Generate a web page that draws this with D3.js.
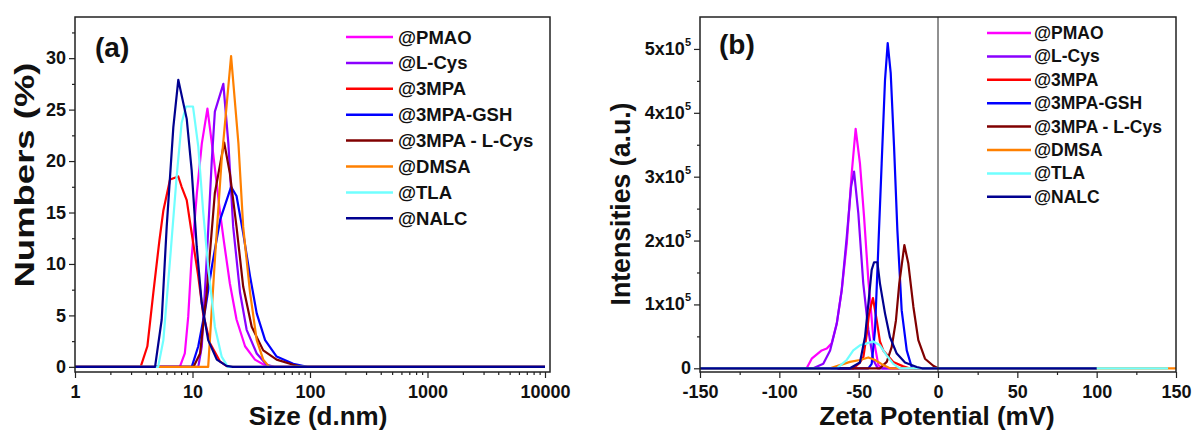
<!DOCTYPE html>
<html><head><meta charset="utf-8">
<script src="https://cdn.jsdelivr.net/npm/d3@7"></script>
<style>
html,body{margin:0;padding:0;background:#fff;}
text{font-family:"Liberation Sans",Arial,sans-serif;font-weight:bold;fill:#111;}
</style></head>
<body><svg id="c" width="1194" height="432"></svg>
<script>
// ---------- DATA ----------
const seriesNames = ["@PMAO","@L-Cys","@3MPA","@3MPA-GSH","@3MPA - L-Cys","@DMSA","@TLA","@NALC"];
const seriesColors = ["#ff00ff","#8a00ff","#ff0000","#0000ff","#800000","#ff8000","#70ffff","#000090"];

// Panel (a): size (d.nm) vs numbers (%)
const sizePMAO   = [[1,0],[7.8,0],[8.6,1.3],[9.2,4.9],[9.8,10.4],[10.9,16.9],[12,21.7],[13.4,25.1],[15,20.7],[17.2,14.9],[18.5,12.2],[20.8,8.1],[23.7,4.6],[28,2.0],[34,0.7],[42,0.1],[48,0],[10000,0]];
const sizeLCys   = [[1,0],[11.2,0],[12,2],[13.2,10.4],[14.6,20.1],[15.5,24.8],[18.3,27.5],[20.2,21.7],[22.2,13.6],[25.4,7.2],[28.9,3.6],[35.2,1.3],[42.7,0.2],[50,0],[10000,0]];
const size3MPA   = [[1,0],[3.62,0],[4.13,2],[4.64,7.2],[5.23,12.3],[5.65,15.2],[6.44,18.2],[7.57,18.5],[8.08,17.5],[8.93,16.2],[9.84,13],[11.2,8.8],[12.3,5.2],[14.1,2.3],[17.2,0.5],[20,0],[10000,0]];
const sizeGSH    = [[1,0],[9.85,0],[11.2,2],[12.8,5.5],[14.6,9.7],[17.2,14.3],[21.3,17.5],[23.7,16.6],[27,13],[30.9,8.8],[35.2,5.2],[41.5,2.6],[52,1],[72,0.3],[95,0],[10000,0]];
const size3MPALCys = [[1,0],[10.2,0],[11.6,1.3],[13.2,7.2],[15.5,16.9],[18.6,21.8],[20.8,18.8],[23.7,13.6],[27,7.8],[31.9,3.9],[40,1.6],[52,0.7],[72,0.2],[85,0],[10000,0]];
const sizeDMSA   = [[1,0],[13.6,0],[15.5,10.4],[17.7,20.1],[21.3,30.2],[24.6,21.7],[27,13.6],[30.9,7.2],[35.2,2.6],[40,0.7],[45,0],[10000,0]];
const sizeTLA    = [[1,0],[5.1,0],[5.65,2.6],[6.44,10.4],[7.33,18.5],[8.08,23.7],[8.8,25.3],[10.1,25.3],[11.2,21.4],[12.3,15.2],[13.6,9.7],[15.5,3.9],[17.7,1.0],[20,0],[10000,0]];
const sizeNALC   = [[1,0],[4.8,0],[5.47,4.6],[6.03,13.6],[6.87,23.3],[7.57,27.9],[8.93,24.1],[9.84,19.1],[10.86,11.7],[11.98,6.2],[13.6,2.6],[16.1,0.7],[19.5,0.1],[22,0],[10000,0]];

// Panel (b): zeta potential (mV) vs intensities (a.u.)
const zetaPMAO   = [[-150,0],[-82.8,0],[-79.6,0.15e5],[-73.3,0.28e5],[-70.1,0.31e5],[-67,0.39e5],[-63.8,0.7e5],[-60.7,1.22e5],[-57.5,1.95e5],[-54.4,3.05e5],[-51.9,3.75e5],[-49.2,3.21e5],[-46.6,2.37e5],[-43.9,1.38e5],[-40.8,0.49e5],[-37.6,0.05e5],[-35,0],[100,0]];
const zetaLCys   = [[-150,0],[-78.6,0],[-72.3,0.07e5],[-68,0.28e5],[-63.8,0.7e5],[-60.7,1.22e5],[-57.5,2.06e5],[-54.8,2.84e5],[-52.9,3.08e5],[-50.2,2.42e5],[-47.1,1.33e5],[-43.9,0.6e5],[-40.8,0.13e5],[-38,0],[100,0]];
const zeta3MPA   = [[-150,0],[-53.4,0],[-49.2,0.09e5],[-47,0.18e5],[-44.9,0.54e5],[-43.5,0.85e5],[-41,1.1e5],[-38.6,0.75e5],[-36.6,0.42e5],[-34.5,0.28e5],[-28.2,0.1e5],[-21.9,0.03e5],[-18,0],[100,0]];
const zetaGSH    = [[-150,0],[-43.9,0],[-41.8,0.07e5],[-39.7,0.6e5],[-37.6,1.9e5],[-35.5,3.21e5],[-33.4,4.51e5],[-31.7,5.09e5],[-29.8,4.62e5],[-27.7,3.47e5],[-25.6,2.16e5],[-22.9,0.91e5],[-19.7,0.28e5],[-16.6,0.02e5],[-15,0],[100,0]];
const zeta3MPALCys = [[-150,0],[-36.6,0],[-32.3,0.1e5],[-29.2,0.33e5],[-26.5,0.75e5],[-24.4,1.33e5],[-21.2,1.93e5],[-18.7,1.64e5],[-15.5,0.96e5],[-12.4,0.44e5],[-8.2,0.15e5],[-3,0.04e5],[0,0],[100,0]];
const zetaDMSA   = [[-150,0],[-68,0],[-61.8,0.05e5],[-55.5,0.1e5],[-49.2,0.13e5],[-43.9,0.17e5],[-39.7,0.13e5],[-34.5,0.05e5],[-30.3,0],[150,0]];
const zetaTLA    = [[-150,0],[-63.8,0],[-57.5,0.13e5],[-53.4,0.28e5],[-49.2,0.36e5],[-44.9,0.39e5],[-40.8,0.42e5],[-36.6,0.36e5],[-32.3,0.2e5],[-28.2,0.07e5],[-24,0],[145,0]];
const zetaNALC   = [[-150,0],[-55.5,0],[-49.2,0.09e5],[-46,0.49e5],[-43.9,1.01e5],[-41.8,1.54e5],[-40.3,1.66e5],[-38.2,1.66e5],[-36.6,1.33e5],[-33.4,0.86e5],[-30.3,0.49e5],[-26,0.23e5],[-20.8,0.09e5],[-13.4,0.02e5],[-10,0],[100,0]];

const sizeTicks = [1,10,100,1000,10000];
const numTicks = [0,5,10,15,20,25,30];
const zetaTicks = [-150,-100,-50,0,50,100,150];
const intTicks = [0,1e5,2e5,3e5,4e5,5e5];

const seriesA = [sizePMAO,sizeLCys,size3MPA,sizeGSH,size3MPALCys,sizeDMSA,sizeTLA,sizeNALC];
const seriesB = [zetaPMAO,zetaLCys,zeta3MPA,zetaGSH,zeta3MPALCys,zetaDMSA,zetaTLA,zetaNALC];

// ---------- DRAW ----------
const svg = d3.select("#c");
const plainFmt = d => String(d);

function frame(g, x0, x1, y0, y1){
  g.append("rect").attr("x",x0).attr("y",y0).attr("width",x1-x0).attr("height",y1-y0)
   .attr("fill","none").attr("stroke","#222").attr("stroke-width",1.5);
}

// Panel A
{
  const L=75,R=550,T=17,B=372;
  const x = d3.scaleLog().domain([1,10000]).range([75,545]);
  const y = d3.scaleLinear().domain([-0.5,34]).range([B,T]);
  const g = svg.append("g");
  const line = d3.line().x(d=>x(d[0])).y(d=>y(d[1]));
  seriesA.forEach((s,i)=>{
    g.append("path").attr("d",line(s)).attr("fill","none").attr("stroke",seriesColors[i])
     .attr("stroke-width",2.2).attr("stroke-linejoin","round");
  });
  frame(g,L,R,T,B);
  const minorX=[];
  for(let d=1; d<10000; d*=10) for(let k=2;k<=9;k++) minorX.push(d*k);
  const ax = d3.axisBottom(x).tickValues(sizeTicks).tickFormat(plainFmt).tickSize(6).tickSizeOuter(0);
  const gx = g.append("g").attr("transform",`translate(0,${B})`).call(ax);
  gx.select(".domain").remove();
  gx.selectAll("text").attr("font-size",18).attr("dy","0.95em").attr("y",9);
  g.append("g").attr("transform",`translate(0,${B})`).call(d3.axisBottom(x).tickValues(minorX).tickFormat("").tickSize(3).tickSizeOuter(0))
   .select(".domain").remove();
  const ay = d3.axisLeft(y).tickValues(numTicks).tickFormat(plainFmt).tickSize(6).tickSizeOuter(0);
  const gy = g.append("g").attr("transform",`translate(${L},0)`).call(ay);
  gy.select(".domain").remove();
  gy.selectAll("text").attr("font-size",18).attr("x",-9);
  g.append("g").attr("transform",`translate(${L},0)`).call(d3.axisLeft(y).tickValues([2.5,7.5,12.5,17.5,22.5,27.5,32.5]).tickFormat("").tickSize(3).tickSizeOuter(0))
   .select(".domain").remove();
  g.selectAll(".tick line").attr("stroke","#222").attr("stroke-width",1.2);
  g.append("text").attr("x",318).attr("y",425).attr("text-anchor","middle").attr("font-size",26).text("Size (d.nm)");
  g.append("text").attr("transform","translate(34,175) rotate(-90)").attr("text-anchor","middle")
   .attr("font-size",28).attr("textLength",225).attr("lengthAdjust","spacingAndGlyphs").text("Numbers (%)");
  g.append("text").attr("x",95).attr("y",57).attr("font-size",28).text("(a)");
  seriesNames.forEach((n,i)=>{
    const yy = 37 + i*25.9;
    g.append("line").attr("x1",346).attr("x2",393).attr("y1",yy).attr("y2",yy).attr("stroke",seriesColors[i]).attr("stroke-width",2.5);
    g.append("text").attr("x",398).attr("y",yy+6.5).attr("font-size",18.5).text(n);
  });
}

// Panel B
{
  const L=700,R=1176,T=17,B=372;
  const x = d3.scaleLinear().domain([-150,150]).range([L,R]);
  const y = d3.scaleLinear().domain([-5800,550000]).range([B,T]);
  const g = svg.append("g");
  const line = d3.line().x(d=>x(d[0])).y(d=>y(d[1]));
  seriesB.forEach((s,i)=>{
    g.append("path").attr("d",line(s)).attr("fill","none").attr("stroke",seriesColors[i])
     .attr("stroke-width",2.2).attr("stroke-linejoin","round");
  });
  g.append("line").attr("x1",x(0)).attr("x2",x(0)).attr("y1",T).attr("y2",B).attr("stroke","#222").attr("stroke-width",1);
  frame(g,L,R,T,B);
  const ax = d3.axisBottom(x).tickValues(zetaTicks).tickFormat(plainFmt).tickSize(6).tickSizeOuter(0);
  const gx = g.append("g").attr("transform",`translate(0,${B})`).call(ax);
  gx.select(".domain").remove();
  gx.selectAll("text").attr("font-size",18).attr("dy","0.95em").attr("y",9);
  g.append("g").attr("transform",`translate(0,${B})`).call(d3.axisBottom(x).tickValues([-125,-75,-25,25,75,125]).tickFormat("").tickSize(3).tickSizeOuter(0))
   .select(".domain").remove();
  const ay = d3.axisLeft(y).tickValues(intTicks).tickFormat("").tickSize(6).tickSizeOuter(0);
  const gy = g.append("g").attr("transform",`translate(${L},0)`).call(ay);
  gy.select(".domain").remove();
  intTicks.forEach(v=>{
    const t = g.append("text").attr("x",L-9).attr("y",y(v)+6).attr("text-anchor","end").attr("font-size",18);
    if(v===0){ t.text("0"); }
    else {
      t.append("tspan").text((v/1e5)+"x10");
      t.append("tspan").attr("font-size",11).attr("dy",-9).text("5");
    }
  });
  g.append("g").attr("transform",`translate(${L},0)`).call(d3.axisLeft(y).tickValues([0.5e5,1.5e5,2.5e5,3.5e5,4.5e5]).tickFormat("").tickSize(3).tickSizeOuter(0))
   .select(".domain").remove();
  g.selectAll(".tick line").attr("stroke","#222").attr("stroke-width",1.2);
  g.append("text").attr("x",937).attr("y",425).attr("text-anchor","middle").attr("font-size",26).text("Zeta Potential (mV)");
  g.append("text").attr("transform","translate(630,204) rotate(-90)").attr("text-anchor","middle")
   .attr("font-size",28).attr("textLength",203).attr("lengthAdjust","spacingAndGlyphs").text("Intensities (a.u.)");
  g.append("text").attr("x",719).attr("y",54).attr("font-size",28).text("(b)");
  seriesNames.forEach((n,i)=>{
    const yy = 33 + i*23.4;
    g.append("line").attr("x1",987).attr("x2",1031).attr("y1",yy).attr("y2",yy).attr("stroke",seriesColors[i]).attr("stroke-width",2.5);
    g.append("text").attr("x",1034).attr("y",yy+6).attr("font-size",17.5).text(n);
  });
}
</script></body></html>
